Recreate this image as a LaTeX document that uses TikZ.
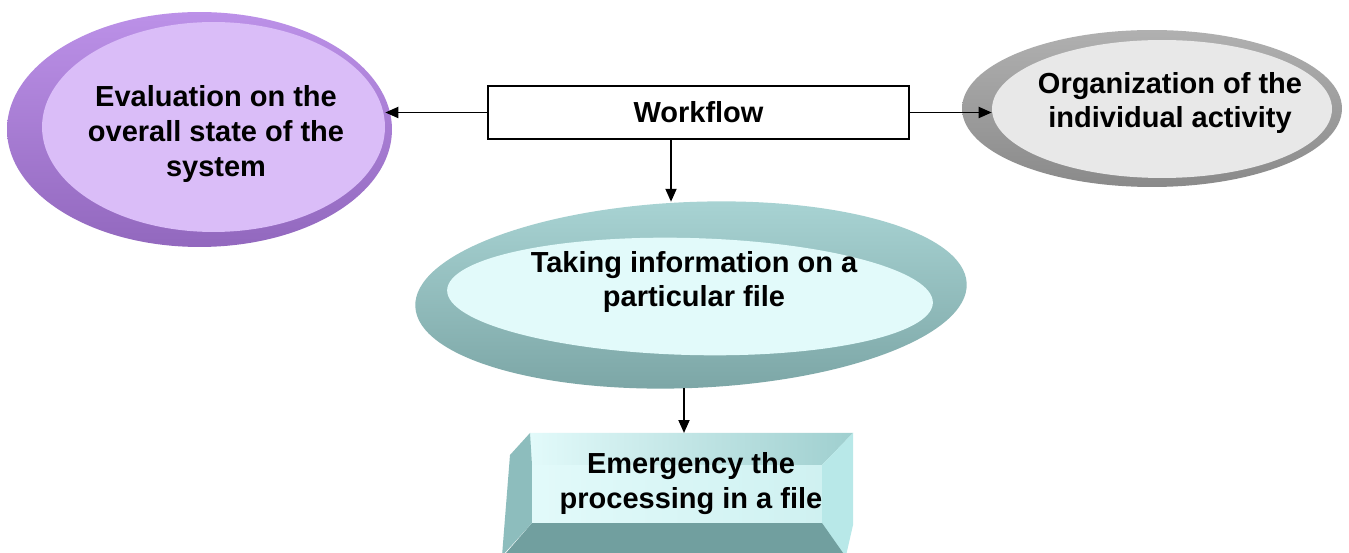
\documentclass[tikz,border=0pt]{standalone}
\usepackage{fontspec}
\setmainfont{Liberation Sans}
\usetikzlibrary{shapes.geometric}
\usetikzlibrary{arrows.meta}
\usetikzlibrary{positioning}

\definecolor{lilacdark}{HTML}{9268BE}
\definecolor{lilacmid}{HTML}{BC91E8}
\definecolor{lilaclight}{HTML}{DABDF8}
\definecolor{greydark}{HTML}{8A8A8A}
\definecolor{greymid}{HTML}{B0B0B0}
\definecolor{greylight}{HTML}{E8E8E8}
\definecolor{tealdark}{HTML}{7BA5A5}
\definecolor{tealmid}{HTML}{A9D4D4}
\definecolor{teallight}{HTML}{E2FAFA}
\definecolor{tealface}{HTML}{CFF1F1}
\definecolor{tealtop}{HTML}{9FCFCF}
\definecolor{tealside}{HTML}{B8E8E8}
\definecolor{tealleft}{HTML}{8DBDBD}
\definecolor{tealbottom}{HTML}{719F9F}

\begin{document}
\begin{tikzpicture}[x=0.02cm,y=-0.02cm,
    label text/.style={font=\bfseries\fontsize{16.5}{19.9}\selectfont, align=center},
    blob/.style={ellipse, inner sep=0pt},
    arr/.style={line width=1.1pt, -{Triangle[length=0.26cm,width=0.22cm]}}]
  \clip (0,0) rectangle (1349,553);
  \fill[white] (0,0) rectangle (1349,553);

  %% Draw the ellipses, rim first.
  \node[blob, minimum width=7.7cm, minimum height=4.7cm,
        top color=lilacmid, bottom color=lilacdark] (evalback) at (199.5,129.5) {};
  \node[blob, minimum width=6.86cm, minimum height=4.2cm, fill=lilaclight] (eval) at (213.5,127) {};
  \node[blob, minimum width=7.6cm, minimum height=3.14cm,
        top color=greymid, bottom color=greydark] (orgback) at (1152,108.5) {};
  \node[blob, minimum width=6.8cm, minimum height=2.76cm, fill=greylight] (org) at (1162,109) {};
  \node[blob, minimum width=11.04cm, minimum height=3.72cm, rotate=2.4,
        top color=tealmid, bottom color=tealdark] (takeback) at (691,295) {};
  \node[blob, minimum width=9.72cm, minimum height=2.34cm, rotate=-1.5, fill=teallight] (take) at (690,296.5) {};

  %% Draw the bevelled box.
  \shade[left color=teallight, right color=tealtop] (530,433) -- (853,433) -- (822,465) -- (532,465) -- cycle;
  \fill[tealside] (853,433) -- (853,525) -- (845,560) -- (822,523) -- (822,465) -- cycle;
  \fill[tealbottom] (532,523) -- (822,523) -- (848,560) -- (500,560) -- cycle;
  \fill[tealleft] (530,433) -- (532,465) -- (532,523) -- (502,556) -- (510,455) -- cycle;
  \node[minimum width=5.8cm, minimum height=1.16cm, inner sep=0pt,
        left color=teallight, right color=tealface] (emerg) at (677,494) {};
  \coordinate (emergtop) at (684,433);

  %% Texts
  \node[label text] (evaltext) at (216,134) {Evaluation on the\\overall state of the\\system};
  \node[label text] (orgtext) at (1170,103) {Organization of the\\individual activity};
  \node[label text] (taketext) at (694,282) {Taking information on a\\particular file};
  \node[label text] (emergtext) at (691,483.5) {Emergency the\\processing in a file};
  \node[draw, line width=1.1pt, minimum width=8.42cm, minimum height=1.06cm, label text] (wf) at (698.5,112.5) {Workflow};

  %% Connect them.
  \draw[arr] (wf.west) -- (wf.west -| eval.east);
  \draw[arr] (wf.east) -- (wf.east -| org.west);
  \draw[arr] ([xshift=-0.55cm]wf.south) -- ([xshift=-0.55cm]wf.south |- takeback.north);
  \draw[arr] (emergtop |- takeback.south) -- (emergtop);
\end{tikzpicture}
\end{document}
